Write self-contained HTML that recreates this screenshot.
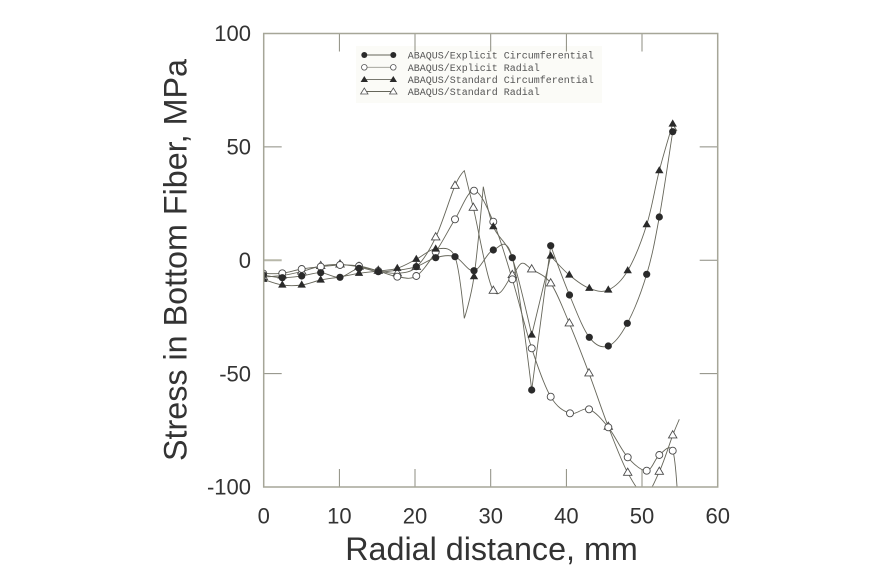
<!DOCTYPE html>
<html>
<head>
<meta charset="utf-8">
<style>
  html,body{margin:0;padding:0;background:#fff;}
  svg{display:block;}
</style>
</head>
<body>
<svg id="chart" width="894" height="585" viewBox="0 0 894 585" xmlns="http://www.w3.org/2000/svg">
  <defs>
    <clipPath id="plot"><rect x="263.7" y="33.5" width="454" height="453.5"/></clipPath>
    <circle id="fc" r="3.6" fill="#2a2a2a"/>
    <circle id="oc" r="3.5" fill="#fff" stroke="#4a4a4a" stroke-width="0.9"/>
    <path id="ft" d="M0,-4.6 L4.2,2.6 L-4.2,2.6Z" fill="#2a2a2a"/>
    <path id="ot" d="M0,-4.6 L4.2,2.6 L-4.2,2.6Z" fill="#fff" stroke="#4a4a4a" stroke-width="0.9"/>
  </defs>
  <rect width="894" height="585" fill="#fff"/>

  <!-- legend background -->
  <rect x="356" y="46" width="246" height="57" fill="#fbfbf7"/>

  <!-- ticks -->
  <g stroke="#8c8c80" stroke-width="1">
    <line x1="263.7" y1="146.9" x2="281.7" y2="146.9"/>
    <line x1="263.7" y1="260.3" x2="281.7" y2="260.3" stroke="#b8b8aa" stroke-width="2"/>
    <line x1="263.7" y1="373.6" x2="281.7" y2="373.6"/>
    <line x1="717.7" y1="146.9" x2="699.7" y2="146.9"/>
    <line x1="717.7" y1="260.3" x2="699.7" y2="260.3"/>
    <line x1="717.7" y1="373.6" x2="699.7" y2="373.6"/>
    <line x1="339.4" y1="33.5" x2="339.4" y2="51.5"/>
    <line x1="415" y1="33.5" x2="415" y2="51.5"/>
    <line x1="490.7" y1="33.5" x2="490.7" y2="51.5"/>
    <line x1="566.4" y1="33.5" x2="566.4" y2="51.5"/>
    <line x1="642" y1="33.5" x2="642" y2="51.5"/>
    <line x1="339.4" y1="487" x2="339.4" y2="469"/>
    <line x1="415" y1="487" x2="415" y2="469"/>
    <line x1="490.7" y1="487" x2="490.7" y2="469"/>
    <line x1="566.4" y1="487" x2="566.4" y2="469"/>
    <line x1="642" y1="487" x2="642" y2="469"/>
  </g>

  <!-- series lines -->
  <g clip-path="url(#plot)" fill="none" stroke="#66665a" stroke-width="0.9">
    <polyline class="s" points="263.3,277 282.3,275.5 301.7,271.5 320.7,266 340,264.5 359,266.7 378.3,270.7 397.3,273.3 416.3,267 435.7,237.3 455,185.7 464.3,170.7 473.3,207.7 493.3,290.7 512.3,275 521.7,263.3 531.7,269.3 550.7,283.3 569.3,323.3 589,373.3 608.3,426.7 627.7,472.7 645,494 659.3,471.7 672.7,435.3 679.3,419.3"/>
    <polyline class="s" points="263.3,273.5 282.3,273.3 301.7,269 320.7,266.7 340,265 359,266 378.3,271 397.3,276.7 416.3,276 435.7,252 455,219.3 474,190.7 493.3,221.7 512.3,279.3 531.7,348.3 550.7,396.7 570,413.3 589,409.3 608.3,427.3 627.7,457.3 646.7,470.7 659.3,455 672.7,450.7 678,500"/>
    <polyline class="s" points="263.3,279.3 282.3,285 301.7,285 320.7,280 340,277 359,273.3 378.3,271 397.3,268.3 416.3,259.3 435.7,249 455,257 464.3,318.3 474,276.7 483.3,186.7 493.3,226.7 512.3,258 531.7,335 550.7,256 569.3,275 589.3,288.3 608.3,290 627.7,270.7 646.7,224.7 659.3,170.7 672.7,124 677,131"/>
    <polyline class="s" points="263.3,275 282.3,277.7 301.7,276 320.7,272.7 340,277.3 359,268.3 378.3,271.7 397.3,270.3 416.3,266.7 435.7,257.7 455,256.7 474,270.7 493.3,250 512.3,257.7 531.7,390 550.7,245.7 569.5,295 589.3,337.3 608.3,346 627.3,323.3 646.7,274.3 659.3,217 672.7,131.7"/>
  </g>

  <!-- markers: standard radial (open triangles) -->
  <g clip-path="url(#plot)">
    <use href="#ot" x="263.3" y="277"/><use href="#ot" x="282.3" y="275.5"/><use href="#ot" x="301.7" y="271.5"/>
    <use href="#ot" x="320.7" y="266"/><use href="#ot" x="340" y="264.5"/><use href="#ot" x="359" y="266.7"/>
    <use href="#ot" x="378.3" y="270.7"/><use href="#ot" x="397.3" y="273.3"/><use href="#ot" x="416.3" y="267"/>
    <use href="#ot" x="435.7" y="237.3"/><use href="#ot" x="455" y="185.7"/><use href="#ot" x="473.3" y="207.7"/>
    <use href="#ot" x="493.3" y="290.7"/><use href="#ot" x="512.3" y="275"/><use href="#ot" x="531.7" y="269.3"/>
    <use href="#ot" x="550.7" y="283.3"/><use href="#ot" x="569.3" y="323.3"/><use href="#ot" x="589" y="373.3"/>
    <use href="#ot" x="608.3" y="426.7"/><use href="#ot" x="627.7" y="472.7"/><use href="#ot" x="659.3" y="471.7"/>
    <use href="#ot" x="672.7" y="435.3"/>
  </g>
  <!-- markers: explicit radial (open circles) -->
  <g clip-path="url(#plot)">
    <use href="#oc" x="263.3" y="273.5"/><use href="#oc" x="282.3" y="273.3"/><use href="#oc" x="301.7" y="269"/>
    <use href="#oc" x="320.7" y="266.7"/><use href="#oc" x="340" y="265"/><use href="#oc" x="359" y="266"/>
    <use href="#oc" x="378.3" y="271"/><use href="#oc" x="397.3" y="276.7"/><use href="#oc" x="416.3" y="276"/>
    <use href="#oc" x="435.7" y="252"/><use href="#oc" x="455" y="219.3"/><use href="#oc" x="474" y="190.7"/>
    <use href="#oc" x="493.3" y="221.7"/><use href="#oc" x="512.3" y="279.3"/><use href="#oc" x="531.7" y="348.3"/>
    <use href="#oc" x="550.7" y="396.7"/><use href="#oc" x="570" y="413.3"/><use href="#oc" x="589" y="409.3"/>
    <use href="#oc" x="608.3" y="427.3"/><use href="#oc" x="627.7" y="457.3"/><use href="#oc" x="646.7" y="470.7"/>
    <use href="#oc" x="659.3" y="455"/><use href="#oc" x="672.7" y="450.7"/>
  </g>
  <!-- markers: standard circumferential (filled triangles) -->
  <g clip-path="url(#plot)">
    <use href="#ft" x="263.3" y="279.3"/><use href="#ft" x="282.3" y="285"/><use href="#ft" x="301.7" y="285"/>
    <use href="#ft" x="320.7" y="280"/><use href="#ft" x="359" y="273.3"/>
    <use href="#ft" x="378.3" y="271"/><use href="#ft" x="416.3" y="259.3"/>
    <use href="#ft" x="435.7" y="249"/><use href="#ft" x="474" y="276.7"/>
    <use href="#ft" x="493.3" y="226.7"/><use href="#ft" x="531.7" y="335"/>
    <use href="#ft" x="550.7" y="256"/><use href="#ft" x="569.3" y="275"/><use href="#ft" x="589.3" y="288.3"/>
    <use href="#ft" x="608.3" y="290"/><use href="#ft" x="627.7" y="270.7"/><use href="#ft" x="646.7" y="224.7"/>
    <use href="#ft" x="659.3" y="170.7"/><use href="#ft" x="672.7" y="124"/>
  </g>
  <!-- markers: explicit circumferential (filled circles) -->
  <g clip-path="url(#plot)">
    <use href="#fc" x="263.3" y="275"/><use href="#fc" x="282.3" y="277.7"/><use href="#fc" x="301.7" y="276"/>
    <use href="#fc" x="320.7" y="272.7"/><use href="#fc" x="340" y="277.3"/><use href="#fc" x="359" y="268.3"/>
    <use href="#fc" x="378.3" y="271.7"/><use href="#fc" x="416.3" y="266.7"/>
    <use href="#fc" x="435.7" y="257.7"/><use href="#fc" x="455" y="256.7"/><use href="#fc" x="474" y="270.7"/>
    <use href="#fc" x="493.3" y="250"/><use href="#fc" x="512.3" y="257.7"/><use href="#fc" x="531.7" y="390"/>
    <use href="#fc" x="550.7" y="245.7"/><use href="#fc" x="569.5" y="295"/><use href="#fc" x="589.3" y="337.3"/>
    <use href="#fc" x="608.3" y="346"/><use href="#fc" x="627.3" y="323.3"/><use href="#fc" x="646.7" y="274.3"/>
    <use href="#fc" x="659.3" y="217"/><use href="#fc" x="672.7" y="131.7"/>
  </g>
  <use href="#ft" x="397.3" y="268.3"/>

  <!-- frame -->
  <rect x="263.7" y="33.5" width="454" height="453.5" fill="none" stroke="#a6a698" stroke-width="1.5"/>

  <!-- legend -->
  <g stroke="#66665a" stroke-width="0.9">
    <line x1="364.3" y1="55" x2="393.3" y2="55"/>
    <line x1="364.3" y1="67.3" x2="393.3" y2="67.3" stroke="#9a9a90"/>
    <line x1="364.3" y1="79.6" x2="393.3" y2="79.6"/>
    <line x1="364.3" y1="91.5" x2="393.3" y2="91.5"/>
  </g>
  <circle cx="364.3" cy="55" r="3" fill="#2a2a2a"/><circle cx="393.3" cy="55" r="3" fill="#2a2a2a"/>
  <circle cx="364.3" cy="67.3" r="2.8" fill="#fff" stroke="#555" stroke-width="0.8"/><circle cx="393.3" cy="67.3" r="2.8" fill="#fff" stroke="#555" stroke-width="0.8"/>
  <path d="M364.3,76 L368,82 L360.6,82Z M393.3,76 L397,82 L389.6,82Z" fill="#2a2a2a"/>
  <path d="M364.3,88 L368,94 L360.6,94Z M393.3,88 L397,94 L389.6,94Z" fill="#fff" stroke="#555" stroke-width="0.8"/>
  <g font-family="'Liberation Mono', monospace" font-size="10" fill="#555">
    <text x="407.7" y="58.5">ABAQUS/Explicit Circumferential</text>
    <text x="407.7" y="70.8">ABAQUS/Explicit Radial</text>
    <text x="407.7" y="83.1">ABAQUS/Standard Circumferential</text>
    <text x="407.7" y="95">ABAQUS/Standard Radial</text>
  </g>

  <!-- tick labels -->
  <g font-family="'Liberation Sans', Arial, sans-serif" font-size="22" fill="#333" text-anchor="end">
    <text x="251" y="41.2">100</text>
    <text x="251" y="154.6">50</text>
    <text x="251" y="268">0</text>
    <text x="251" y="381.3">-50</text>
    <text x="251" y="494.7">-100</text>
  </g>
  <g font-family="'Liberation Sans', Arial, sans-serif" font-size="22" fill="#333" text-anchor="middle">
    <text x="263.7" y="523.5">0</text>
    <text x="339.4" y="523.5">10</text>
    <text x="415" y="523.5">20</text>
    <text x="490.7" y="523.5">30</text>
    <text x="566.4" y="523.5">40</text>
    <text x="642" y="523.5">50</text>
    <text x="717.7" y="523.5">60</text>
  </g>

  <!-- axis titles -->
  <text x="491.5" y="560" font-family="'Liberation Sans', Arial, sans-serif" font-size="32.3" fill="#333" text-anchor="middle">Radial distance, mm</text>
  <text transform="translate(186.7,260) rotate(-90)" font-family="'Liberation Sans', Arial, sans-serif" font-size="32.3" fill="#333" text-anchor="middle">Stress in Bottom Fiber, MPa</text>
</svg>
<script>
(function(){
  var NS="http://www.w3.org/2000/svg";
  function corner(a,b,c){
    if(!a||!c) return false;
    var v1x=b[0]-a[0],v1y=b[1]-a[1],v2x=c[0]-b[0],v2y=c[1]-b[1];
    var l1=Math.sqrt(v1x*v1x+v1y*v1y),l2=Math.sqrt(v2x*v2x+v2y*v2y);
    if(!l1||!l2) return false;
    return (v1x*v2x+v1y*v2y)/(l1*l2) < -0.5;
  }
  var pls=document.querySelectorAll("polyline.s");
  for(var k=0;k<pls.length;k++){
    var pl=pls[k];
    var raw=pl.getAttribute("points").trim().split(/\s+/);
    var p=raw.map(function(s){var a=s.split(",");return [parseFloat(a[0]),parseFloat(a[1])];});
    var n=p.length, tx=[], ty=[];
    for(var i=0;i<n;i++){
      var a=p[i-1],b=p[i],c=p[i+1];
      if(corner(a,b,c)){tx[i]=0;ty[i]=0;continue;}
      var A=a||b,C=c||b;
      tx[i]=(C[0]-A[0])/6; ty[i]=(C[1]-A[1])/6;
    }
    var d="M"+p[0][0]+","+p[0][1];
    for(var i=0;i<n-1;i++){
      var p1=p[i],p2=p[i+1];
      var c1x=p1[0]+tx[i],c1y=p1[1]+ty[i];
      var c2x=p2[0]-tx[i+1],c2y=p2[1]-ty[i+1];
      d+=" C"+c1x.toFixed(2)+","+c1y.toFixed(2)+" "+c2x.toFixed(2)+","+c2y.toFixed(2)+" "+p2[0]+","+p2[1];
    }
    var path=document.createElementNS(NS,"path");
    path.setAttribute("d",d);
    pl.parentNode.replaceChild(path,pl);
  }
})();
</script>
</body>
</html>
